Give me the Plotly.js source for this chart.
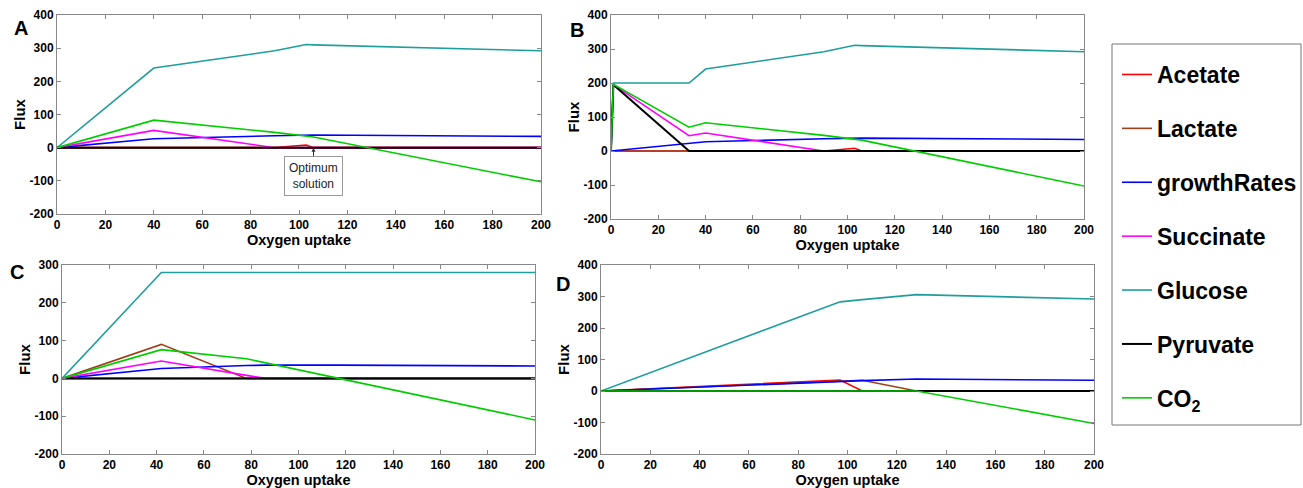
<!DOCTYPE html>
<html>
<head>
<meta charset="utf-8">
<script src="https://cdn.plot.ly/plotly-3.0.1.min.js"></script>
<style>html,body{margin:0;padding:0;background:#fff}#chart{width:1303px;height:488px}</style>
</head>
<body>
<div id="chart"></div>
<script>
// ---- DATA ----
const seriesNames = ["Acetate", "Lactate", "growthRates", "Succinate", "Glucose", "Pyruvate", "CO<sub>2</sub>"];

// Panel A
const xA = [0, 40, 90, 103, 106, 200];
const acetateA   = [0, 0, 0, 8, 0, 0];
const lactateA   = [0, 0, 0, 0, 0, 0];
const growthA    = [0, 27, 36, 38, 38, 34];
const succinateA = [0, 52, 0, 0, 0, 0];
const glucoseA   = [0, 240, 292, 311, 310, 292];
const pyruvateA  = [0, 0, 0, 0, 0, 0];
const co2A       = [0, 83, 46, 36, 32, -103];

// Panel B
const xB = [0, 1, 33, 40, 90, 103, 106, 200];
const acetateB   = [0, 0, 0, 0, 0, 8, 0, 0];
const lactateB   = [0, 0, 0, 0, 0, 0, 0, 0];
const growthB    = [0, 0.7, 22, 27, 36, 38, 38, 34];
const succinateB = [0, 195, 45, 53, 0, 0, 0, 0];
const glucoseB   = [0, 200, 200, 241, 292, 311, 310, 292];
const pyruvateB  = [0, 195, 0, 0, 0, 0, 0, 0];
const co2B       = [0, 196, 70, 83, 46, 36, 32, -103];

// Panel C
const xC = [0, 42, 78, 86, 117, 200];
const acetateC   = [0, 0, 0, 0, 0, 0];
const lactateC   = [0, 90, 0, 0, 0, 0];
const growthC    = [0, 26, 34, 35, 35, 33];
const succinateC = [0, 46, 8, 0, 0, 0];
const glucoseC   = [0, 280, 280, 280, 280, 280];
const pyruvateC  = [0, 0, 0, 0, 0, 0];
const co2C       = [0, 76, 52, 41, 0, -110];

// Panel D
const xD = [0, 97, 106, 128, 200];
const acetateD   = [0, 35, 0, 0, 0];
const lactateD   = [0, 31, 34, 0, 0];
const growthD    = [0, 31, 33, 38, 34];
const succinateD = [0, 0, 0, 0, 0];
const glucoseD   = [0, 283, 290, 306, 292];
const pyruvateD  = [0, 0, 0, 0, 0];
const co2D       = [0, 0, 0, 0, -103];

const xTicks = [0, 20, 40, 60, 80, 100, 120, 140, 160, 180, 200];
const yTicks4 = [-200, -100, 0, 100, 200, 300, 400];
const yTicks3 = [-200, -100, 0, 100, 200, 300];

// ---- STYLE ----
const colors = ["#ff0000", "#a0401a", "#0000ff", "#ff00ff", "#1f9e9e", "#000000", "#00cc00"];
const widths = [1.6, 1.6, 1.6, 1.6, 1.6, 2, 1.6];
const W = 1303, H = 488;
const FONT = "Liberation Sans, Arial, sans-serif";

const panels = [
  {x: xA, ys: [acetateA, lactateA, growthA, succinateA, glucoseA, pyruvateA, co2A], px: [57, 541], py: [15, 214], yr: [-200, 400], yt: yTicks4, sfx: "", label: "A", lab: [21, 28]},
  {x: xB, ys: [acetateB, lactateB, growthB, succinateB, glucoseB, pyruvateB, co2B], px: [611, 1084], py: [15, 219], yr: [-200, 400], yt: yTicks4, sfx: "2", label: "B", lab: [577, 30]},
  {x: xC, ys: [acetateC, lactateC, growthC, succinateC, glucoseC, pyruvateC, co2C], px: [62, 535], py: [265, 454], yr: [-200, 300], yt: yTicks3, sfx: "3", label: "C", lab: [17, 272]},
  {x: xD, ys: [acetateD, lactateD, growthD, succinateD, glucoseD, pyruvateD, co2D], px: [601, 1094], py: [265, 454], yr: [-200, 400], yt: yTicks4, sfx: "4", label: "D", lab: [563, 284]}
];

const traces = [];
const layout = {
  width: W, height: H,
  margin: {l: 0, r: 0, t: 0, b: 0},
  paper_bgcolor: "#fff", plot_bgcolor: "#fff",
  font: {family: FONT, color: "#000"},
  showlegend: true,
  legend: {
    x: 1117 / W, y: 1 - 53 / H, xanchor: "left", yanchor: "top",
    borderwidth: 0, bgcolor: "rgba(0,0,0,0)",
    font: {family: FONT, size: 23, color: "#000", weight: "bold"},
    traceorder: "grouped", tracegroupgap: 21, itemwidth: 30
  },
  annotations: [],
  shapes: [{
    type: "rect", xref: "paper", yref: "paper",
    x0: 1112 / W, x1: 1301 / W, y0: 1 - 425 / H, y1: 1 - 44 / H,
    line: {color: "#777", width: 1}, fillcolor: "rgba(0,0,0,0)", layer: "below"
  }]
};

panels.forEach((p, pi) => {
  p.ys.forEach((y, si) => {
    traces.push({
      type: "scatter", mode: "lines",
      x: p.x, y: y,
      name: seriesNames[si],
      legendgroup: "g" + si,
      showlegend: pi === 0,
      line: {color: colors[si], width: widths[si]},
      xaxis: "x" + p.sfx, yaxis: "y" + p.sfx,
      hoverinfo: "skip"
    });
  });
  const common = {
    showline: true, mirror: "allticks", linecolor: "#888", linewidth: 1,
    ticks: "inside", ticklen: 4, tickcolor: "#888",
    showgrid: false, zeroline: false,
    tickfont: {family: FONT, size: 12, color: "#000", weight: "bold"}
  };
  layout["xaxis" + p.sfx] = Object.assign({}, common, {
    domain: [p.px[0] / W, p.px[1] / W],
    range: [0, 200], tickvals: xTicks, ticktext: xTicks.map(String),
    anchor: "y" + p.sfx,
    title: {text: "Oxygen uptake", font: {family: FONT, size: 14.5, weight: "bold", color: "#000"}, standoff: 1}
  });
  layout["yaxis" + p.sfx] = Object.assign({}, common, {
    domain: [1 - p.py[1] / H, 1 - p.py[0] / H],
    range: p.yr, tickvals: p.yt, ticktext: p.yt.map(String),
    anchor: "x" + p.sfx,
    title: {text: "Flux", font: {family: FONT, size: 15, weight: "bold", color: "#000"}, standoff: 0}
  });
  layout.annotations.push({
    xref: "paper", yref: "paper", x: p.lab[0] / W, y: 1 - p.lab[1] / H,
    xanchor: "center", yanchor: "middle", showarrow: false,
    text: p.label, font: {family: FONT, size: 20, weight: "bold", color: "#000"}
  });
});

layout.annotations.push({
  xref: "x", yref: "y", x: 106, y: 0,
  text: "Optimum<br>solution", showarrow: true, arrowhead: 2, arrowsize: 0.8, arrowwidth: 1,
  arrowcolor: "#333", ax: 0, ay: 28,
  bordercolor: "#999", borderwidth: 1, borderpad: 4, bgcolor: "#fff",
  font: {family: FONT, size: 12, color: "#222"}
});

Plotly.newPlot("chart", traces, layout, {displayModeBar: false, staticPlot: true});
</script>
</body>
</html>
